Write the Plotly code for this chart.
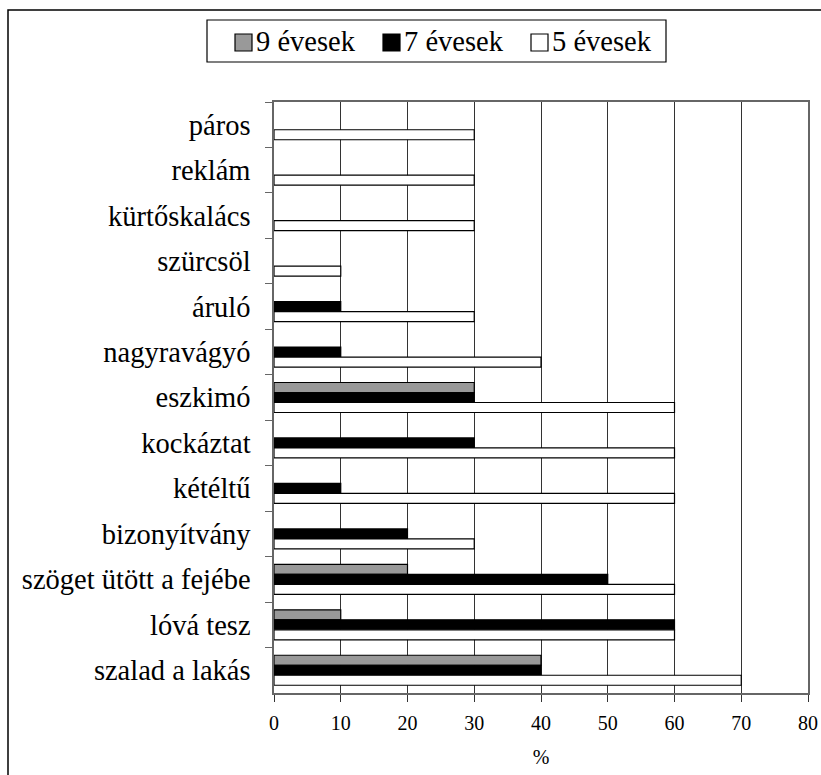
import plotly.graph_objects as go

categories = ["páros", "reklám", "kürtőskalács", "szürcsöl", "áruló", "nagyravágyó",
              "eszkimó", "kockáztat", "kétéltű", "bizonyítvány",
              "szöget ütött a fejébe", "lóvá tesz", "szalad a lakás"]
series_names = ["9 évesek", "7 évesek", "5 évesek"]
age9 = [0, 0, 0, 0, 0, 0, 30, 0, 0, 0, 20, 10, 40]
age7 = [0, 0, 0, 0, 10, 10, 30, 30, 10, 20, 50, 60, 40]
age5 = [30, 30, 30, 10, 30, 40, 60, 60, 60, 30, 60, 60, 70]
x_ticks = [0, 10, 20, 30, 40, 50, 60, 70, 80]

W, H = 821, 775
ML, MR, MT, MB = 274, 821 - 808, 102, 775 - 693
PW, PH = W - ML - MR, H - MT - MB

def px(x):
    return (x - ML) / PW

def py(y):
    return (H - MB - y) / PH

FONT = "Liberation Serif"

fig = go.Figure()
fills = ["#999999", "#000000", "#ffffff"]
for name, vals, col in zip(series_names, [age9, age7, age5], fills):
    fig.add_trace(go.Bar(
        y=categories, x=[v if v else None for v in vals], name=name, orientation="h",
        marker=dict(color=col, line=dict(color="#000000", width=1.2)),
        showlegend=False,
    ))

shapes = [
    dict(type="rect", xref="paper", yref="paper", x0=px(8), x1=px(2000), y0=py(10), y1=py(2000),
         line=dict(color="black", width=1.5), fillcolor="rgba(0,0,0,0)", layer="below"),
    dict(type="rect", xref="paper", yref="paper", x0=px(207), x1=px(666), y0=py(20), y1=py(62),
         line=dict(color="black", width=1.2), fillcolor="rgba(0,0,0,0)"),
]
annotations = []
sw_x = [235, 383, 531]
for name, col, sx in zip(series_names, fills, sw_x):
    shapes.append(dict(type="rect", xref="paper", yref="paper", x0=px(sx), x1=px(sx + 17),
                       y0=py(34), y1=py(51), line=dict(color="black", width=1.2), fillcolor=col))
    annotations.append(dict(xref="paper", yref="paper", x=px(sx + 19), y=py(42), text=name,
                            showarrow=False, xanchor="left", yanchor="middle",
                            font=dict(size=28.5, family=FONT, color="black")))

fig.update_layout(
    width=W, height=H,
    margin=dict(l=ML, r=MR, t=MT, b=MB, autoexpand=False),
    paper_bgcolor="white", plot_bgcolor="white",
    barmode="group", bargap=0.34, bargroupgap=0,
    font=dict(family=FONT, color="black", size=20),
    showlegend=False,
    xaxis=dict(range=[0, 80], tickvals=x_ticks, showgrid=True, gridcolor="#333333", gridwidth=1,
               showline=True, linecolor="#666666", linewidth=1.5, mirror=True,
               ticks="outside", ticklen=7, tickcolor="#333333", tickwidth=1,
               tickfont=dict(size=20, family=FONT, color="black"), ticklabelstandoff=4,
               ticklabeloverflow="allow",
               zeroline=False,
               title=dict(text="%", font=dict(size=20, family=FONT, color="black"), standoff=17)),
    yaxis=dict(autorange="reversed", type="category", showgrid=False,
               showline=True, linecolor="#666666", linewidth=1.5, mirror=True,
               ticks="outside", ticklen=7, tickcolor="#666666", tickson="boundaries",
               tickfont=dict(size=28.5, family=FONT, color="black"), ticklabelstandoff=16),
    shapes=shapes,
    annotations=annotations,
)

fig.write_html("out.html", config={"displayModeBar": False},
               post_script="document.body.style.margin='0';document.body.style.overflow='hidden';")
